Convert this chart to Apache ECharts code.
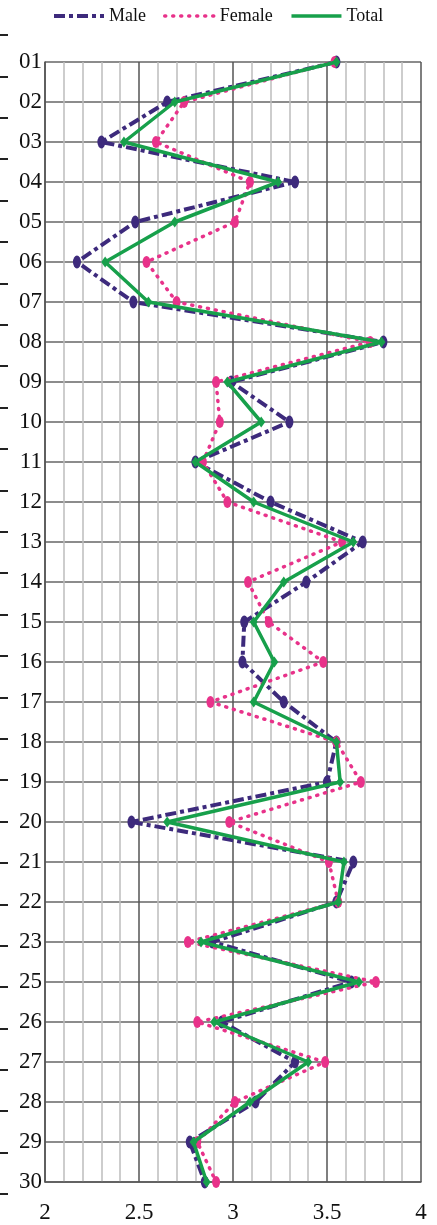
<!DOCTYPE html>
<html>
<head>
<meta charset="utf-8">
<script src="https://cdn.jsdelivr.net/npm/echarts@6/dist/echarts.min.js"></script>
<style>html,body{margin:0;padding:0;background:#fff}#c{width:437px;height:1225px}</style>
</head>
<body>
<div id="c"></div>
<script>
var categories = ['01','02','03','04','05','06','07','08','09','10','11','12','13','14','15','16','17','18','19','20','21','22','23','25','26','27','28','29','30'];
var male   = [3.55,2.65,2.30,3.33,2.48,2.17,2.47,3.80,2.99,3.30,2.80,3.20,3.69,3.39,3.06,3.05,3.27,3.55,3.50,2.46,3.64,3.55,2.89,3.63,2.94,3.33,3.12,2.77,2.85];
var female = [3.54,2.74,2.59,3.09,3.01,2.54,2.70,3.73,2.91,2.93,2.84,2.97,3.58,3.08,3.19,3.48,2.88,3.55,3.68,2.98,3.51,3.56,2.76,3.76,2.81,3.49,3.01,2.81,2.91];
var total  = [3.55,2.69,2.42,3.24,2.69,2.32,2.55,3.79,2.97,3.15,2.80,3.11,3.64,3.27,3.11,3.22,3.11,3.55,3.57,2.65,3.59,3.56,2.83,3.67,2.90,3.40,3.09,2.79,2.86];
var xTicks = [2, 2.5, 3, 3.5, 4];

var FONT = '"Liberation Serif","Times New Roman",serif';
var MALE_C = '#3d2a7c', FEMALE_C = '#e8328a', TOTAL_C = '#17a04b';
var chart = echarts.init(document.getElementById('c'), null, {renderer:'canvas'});
chart.setOption({
  animation: false,
  backgroundColor: '#fff',
  legend: {
    top: 2, left: 47,
    itemWidth: 50, itemHeight: 14, itemGap: 17,
    textStyle: {fontFamily: FONT, fontSize: 18, color: '#111'},
    itemStyle: {opacity: 0},
    data: [
      {name: 'Male', lineStyle: {width: 4, type: [11, 4, 4, 4], color: MALE_C}},
      {name: 'Female', lineStyle: {width: 3.5, type: [1, 7], cap: 'round', color: FEMALE_C}},
      {name: 'Total', lineStyle: {width: 3.5, color: TOTAL_C}}
    ]
  },
  grid: [
    {left: 45, right: 16, top: 62, bottom: 43, containLabel: false},
    {left: 8, width: 1, top: 35, height: 1159}
  ],
  xAxis: [
    {
      type: 'value', gridIndex: 0, min: 2, max: 4, interval: 0.5,
      axisLine: {show: true, lineStyle: {color: '#555', width: 1.5}},
      axisTick: {show: false},
      axisLabel: {
        fontFamily: FONT, fontSize: 23, color: '#111', margin: 19,
        formatter: function (v) { return xTicks.indexOf(v) >= 0 ? String(v) : ''; }
      },
      splitLine: {show: true, lineStyle: {color: '#555', width: 1.5}},
      minorTick: {show: false, splitNumber: 5},
      minorSplitLine: {show: true, lineStyle: {color: '#bdbdbd', width: 1.5}}
    },
    {type: 'value', gridIndex: 1, show: false}
  ],
  yAxis: [
    {
      type: 'category', gridIndex: 0, data: categories, inverse: true, boundaryGap: false,
      axisLine: {show: true, lineStyle: {color: '#555', width: 1.5}},
      axisTick: {show: false},
      axisLabel: {fontFamily: FONT, fontSize: 23, color: '#111', margin: 3, interval: 0},
      splitLine: {show: true, lineStyle: {color: '#666', width: 1.5}}
    },
    {
      type: 'category', gridIndex: 1, data: categories, inverse: true, boundaryGap: false,
      axisLine: {show: false},
      axisLabel: {show: false},
      axisTick: {show: true, length: 8, interval: 0, lineStyle: {color: '#222', width: 2}},
      splitLine: {show: false}
    }
  ],
  series: [
    {
      name: 'Male', type: 'line', data: male, xAxisIndex: 0, yAxisIndex: 0,
      symbol: 'circle', symbolSize: [8, 13],
      itemStyle: {color: MALE_C},
      lineStyle: {color: MALE_C, width: 4, type: [11, 4, 4, 4]},
      z: 3
    },
    {
      name: 'Female', type: 'line', data: female, xAxisIndex: 0, yAxisIndex: 0,
      symbol: 'circle', symbolSize: [8, 12],
      itemStyle: {color: FEMALE_C},
      lineStyle: {color: FEMALE_C, width: 3.5, type: [1, 7], cap: 'round'},
      z: 4
    },
    {
      name: 'Total', type: 'line', data: total, xAxisIndex: 0, yAxisIndex: 0,
      symbol: 'diamond', symbolSize: [8, 11],
      itemStyle: {color: TOTAL_C},
      lineStyle: {color: TOTAL_C, width: 3.5},
      z: 5
    }
  ]
});
</script>
</body>
</html>
